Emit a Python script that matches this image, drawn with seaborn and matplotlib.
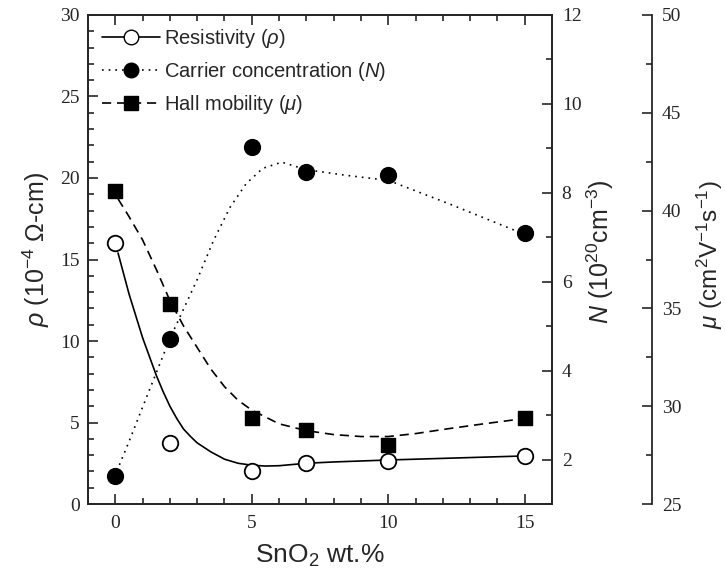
import matplotlib

matplotlib.use("Agg")
import matplotlib.pyplot as plt
import seaborn as sns
from matplotlib.lines import Line2D
from matplotlib.ticker import MultipleLocator

# measured points
sno2_wt = [0, 2, 5, 7, 10, 15]
resistivity = [16.0, 3.75, 2.0, 2.5, 2.65, 2.95]
carrier = [1.63, 4.71, 9.02, 8.46, 8.39, 7.09]
mobility = [41.0, 35.2, 29.4, 28.8, 28.0, 29.4]

# guide-to-the-eye curves
rho_fit_x = [0.1, 0.5, 1.0, 1.5, 1.75, 2.0, 2.25, 2.5, 2.75, 3.0, 3.5, 4.0, 4.5, 5.0, 5.5, 6.0, 7.0, 8.0,
             10.0, 12.0, 15.0]
rho_fit = [15.4, 12.9, 10.2, 7.9, 6.9, 6.0, 5.25, 4.6, 4.15, 3.75, 3.2, 2.75, 2.5, 2.38, 2.33, 2.35, 2.5,
           2.58, 2.7, 2.8, 2.95]

n_fit_x = [0.15, 0.5, 1.0, 1.5, 2.0, 2.4, 3.0, 3.6, 4.2, 4.8, 5.4, 6.1, 7.0, 8.5, 10.0, 12.2, 14.9]
n_fit = [1.88, 2.4, 3.18, 3.95, 4.72, 5.25, 6.05, 6.93, 7.67, 8.21, 8.55, 8.69, 8.52, 8.39, 8.28, 7.76, 7.09]

mu_fit_x = [0.1, 0.5, 1.0, 1.5, 2.0, 2.5, 3.0, 3.5, 4.0, 4.5, 5.0, 6.0, 7.0, 8.0, 9.0, 10.0, 11.0, 12.2,
            13.5, 14.6]
mu_fit = [40.6, 39.7, 38.5, 37.0, 35.4, 34.1, 33.0, 31.9, 31.0, 30.3, 29.8, 29.1, 28.75, 28.55, 28.45,
          28.45, 28.6, 28.85, 29.1, 29.3]

sns.set_theme(style="ticks")
plt.rcParams["font.family"] = ["Liberation Serif", "DejaVu Serif"]
plt.rcParams["mathtext.fontset"] = "custom"
plt.rcParams["mathtext.rm"] = "Liberation Sans"
plt.rcParams["mathtext.it"] = "Liberation Sans:italic"
plt.rcParams["axes.linewidth"] = 1.3

SANS = ["Liberation Sans", "DejaVu Sans"]
LW = 1.2
DOT = (0, (1.0, 3.0))
DASH = (0, (5.5, 3.5))

fig = plt.figure(figsize=(7.25, 5.81), dpi=100)
ax = fig.add_axes([0.1214, 0.1325, 0.64, 0.8417])
ax_n = ax.twinx()
ax_mu = ax.twinx()
ax_mu.spines["right"].set_position(("axes", 1.2155))
for spine in ("top", "bottom", "left"):
    ax_mu.spines[spine].set_visible(False)

sns.lineplot(x=rho_fit_x, y=rho_fit, ax=ax, color="black", linewidth=LW)
sns.lineplot(x=n_fit_x, y=n_fit, ax=ax_n, color="black", linewidth=LW, linestyle=DOT)
sns.lineplot(x=mu_fit_x, y=mu_fit, ax=ax_mu, color="black", linewidth=LW, linestyle=DASH)

sns.scatterplot(x=sno2_wt, y=resistivity, ax=ax, marker="o", s=125,
                facecolor="white", edgecolor="black", linewidth=1.3, zorder=5)
sns.scatterplot(x=sno2_wt, y=carrier, ax=ax_n, marker="o", s=130,
                color="black", edgecolor="black", linewidth=1.0, zorder=5)
sns.scatterplot(x=sno2_wt, y=mobility, ax=ax_mu, marker="s", s=115,
                color="black", edgecolor="black", linewidth=1.0, zorder=5)

ax.set_xlim(-1, 16)
ax.set_ylim(0, 30)
ax_n.set_ylim(1, 12)
ax_mu.set_ylim(25, 50)

ax.xaxis.set_major_locator(MultipleLocator(5))
ax.xaxis.set_minor_locator(MultipleLocator(1))
ax.yaxis.set_major_locator(MultipleLocator(5))
ax.yaxis.set_minor_locator(MultipleLocator(1))
ax_n.yaxis.set_major_locator(MultipleLocator(2))
ax_n.yaxis.set_minor_locator(MultipleLocator(1))
ax_mu.yaxis.set_major_locator(MultipleLocator(5))
ax_mu.yaxis.set_minor_locator(MultipleLocator(2.5))

ax.tick_params(axis="x", which="both", direction="in", top=True, labelsize=14, pad=8, width=1.2)
ax.tick_params(axis="y", which="both", direction="in", right=False, labelsize=14, pad=6, width=1.2)
for a in (ax_n, ax_mu):
    a.tick_params(axis="y", which="both", direction="in", labelsize=14, pad=7, width=1.2)
for a in (ax, ax_n, ax_mu):
    a.tick_params(which="major", length=7)
    a.tick_params(which="minor", length=4)

ax.set_xlabel(r"SnO$_2$ wt.%", family=SANS, fontsize=19)
ax.set_ylabel(r"$\rho$ (10$^{-4}$ $\Omega$-cm)", family=SANS, fontsize=18)
ax_n.set_ylabel(r"$N$ (10$^{20}$cm$^{-3}$)", family=SANS, fontsize=18)
ax_mu.set_ylabel(r"$\mu$ (cm$^{2}$V$^{-1}$s$^{-1}$)", family=SANS, fontsize=17.5)
ax.xaxis.set_label_coords(0.5, -0.08)
ax.yaxis.set_label_coords(-0.078, 0.52)
ax_n.yaxis.set_label_coords(1.071, 0.515)
ax_mu.yaxis.set_label_coords(1.3085, 0.51)

handles = [
    Line2D([], [], color="black", linewidth=LW, marker="o", markersize=10.5,
           markerfacecolor="white", markeredgecolor="black"),
    Line2D([], [], color="black", linewidth=LW, linestyle=DOT, marker="o", markersize=10.5,
           markerfacecolor="black", markeredgecolor="black"),
    Line2D([], [], color="black", linewidth=LW, linestyle=DASH, marker="s", markersize=9.5,
           markerfacecolor="black", markeredgecolor="black"),
]
labels = [r"Resistivity ($\rho$)", r"Carrier concentration ($N$)", r"Hall mobility ($\mu$)"]
ax.legend(handles, labels, loc="upper left", bbox_to_anchor=(0.03, 0.975),
          frameon=False, borderaxespad=0, borderpad=0, handlelength=2.9,
          handletextpad=0.2, labelspacing=0.5, prop={"family": SANS, "size": 14.5})

fig.savefig("out.png", dpi=100, facecolor="white")
